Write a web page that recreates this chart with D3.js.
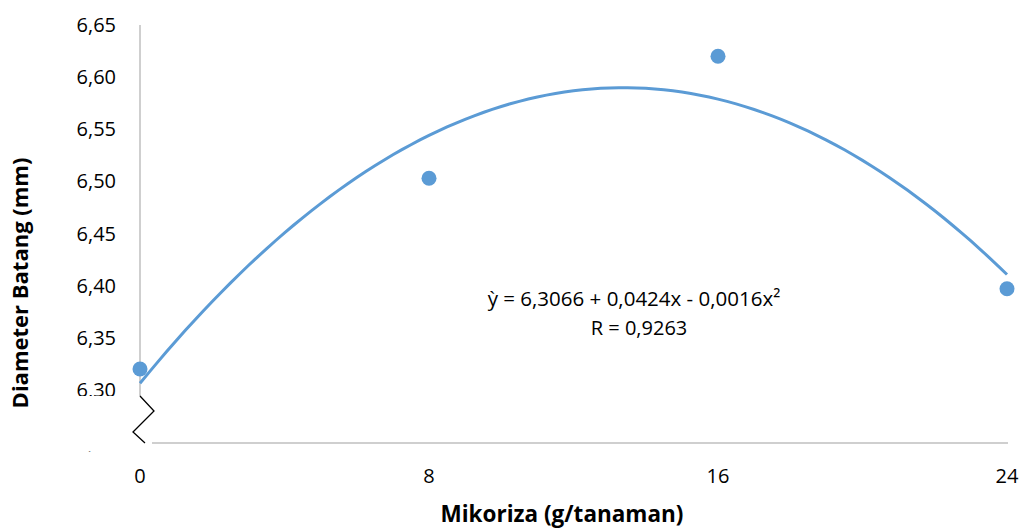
<!DOCTYPE html>
<html>
<head>
<meta charset="utf-8">
<script src="https://cdn.jsdelivr.net/npm/d3@7"></script>
<style>
  body { margin: 0; background: #fff; }
  svg { display: block; font-family: "Open Sans", "Noto Sans", sans-serif; }
</style>
</head>
<body>
<svg id="chart" width="1022" height="530"></svg>
<script>
// data
const mikoriza = [0, 8, 16, 24];
const diameter = [6.32, 6.503, 6.62, 6.397];
const xTicks = [0, 8, 16, 24];
const yTicks = [6.25, 6.30, 6.35, 6.40, 6.45, 6.50, 6.55, 6.60, 6.65];
const equationText = "ỳ = 6,3066 + 0,0424x - 0,0016x²";
const rText = "R = 0,9263";

const svg = d3.select("#chart");
const blue = "#5B9BD5";
const fmt = d => d3.format(".2f")(d).replace(".", ",");

const x = d3.scaleLinear().domain([0, 24]).range([140, 1007]);
const y = d3.scaleLinear().domain([6.25, 6.65]).range([442, 25]);

// y tick labels
svg.append("g").selectAll("text")
  .data(yTicks)
  .join("text")
    .attr("x", 116)
    .attr("y", d => y(d))
    .attr("dy", "0.35em")
    .attr("text-anchor", "end")
    .attr("font-size", 20)
    .attr("fill", "#000")
    .text(fmt);

// axes lines
svg.append("line")
  .attr("x1", 140).attr("x2", 140)
  .attr("y1", y(6.65)).attr("y2", 443)
  .attr("stroke", "#BFBFBF").attr("stroke-width", 1.5);
svg.append("line")
  .attr("x1", 140).attr("x2", 1008)
  .attr("y1", 443).attr("y2", 443)
  .attr("stroke", "#BFBFBF").attr("stroke-width", 1.5);

// white box hiding the broken part of the axis
svg.append("rect")
  .attr("x", 60).attr("y", 396)
  .attr("width", 92).attr("height", 55.5)
  .attr("fill", "#fff");

// zigzag break mark
svg.append("path")
  .attr("d", d3.line()([[140, 396], [154, 411], [133, 432], [145, 443]]))
  .attr("fill", "none")
  .attr("stroke", "#000")
  .attr("stroke-width", 1.3);

// x tick labels
svg.append("g").selectAll("text")
  .data(xTicks)
  .join("text")
    .attr("x", d => x(d))
    .attr("y", 483)
    .attr("text-anchor", "middle")
    .attr("font-size", 20)
    .attr("fill", "#000")
    .text(d => d);

// quadratic least squares trendline (like excel's polynomial order 2)
function fitQuad(xs, ys) {
  let s = [0, 0, 0, 0, 0], t = [0, 0, 0];
  xs.forEach((xi, i) => {
    for (let k = 0; k < 5; k++) s[k] += Math.pow(xi, k);
    for (let k = 0; k < 3; k++) t[k] += ys[i] * Math.pow(xi, k);
  });
  const A = [[s[0], s[1], s[2], t[0]], [s[1], s[2], s[3], t[1]], [s[2], s[3], s[4], t[2]]];
  for (let i = 0; i < 3; i++) {
    for (let j = i + 1; j < 3; j++) {
      const f = A[j][i] / A[i][i];
      for (let k = i; k < 4; k++) A[j][k] -= f * A[i][k];
    }
  }
  const c = [0, 0, 0];
  for (let i = 2; i >= 0; i--) {
    let v = A[i][3];
    for (let k = i + 1; k < 3; k++) v -= A[i][k] * c[k];
    c[i] = v / A[i][i];
  }
  return c;
}
const coef = fitQuad(mikoriza, diameter);
const trend = d3.range(0, 24.001, 0.25).map(v => [v, coef[0] + coef[1] * v + coef[2] * v * v]);

svg.append("path")
  .datum(trend)
  .attr("d", d3.line().x(d => x(d[0])).y(d => y(d[1])))
  .attr("fill", "none")
  .attr("stroke", blue)
  .attr("stroke-width", 3);

// points
svg.append("g").selectAll("circle")
  .data(mikoriza)
  .join("circle")
    .attr("cx", d => x(d))
    .attr("cy", (d, i) => y(diameter[i]))
    .attr("r", 7.5)
    .attr("fill", blue);

// equation label
svg.append("text")
  .attr("x", 634).attr("y", 306)
  .attr("text-anchor", "middle")
  .attr("font-size", 20.5)
  .text(equationText);
svg.append("text")
  .attr("x", 639).attr("y", 335)
  .attr("text-anchor", "middle")
  .attr("font-size", 20)
  .text(rText);

// axis titles
svg.append("text")
  .attr("transform", "translate(28,283) rotate(-90)")
  .attr("text-anchor", "middle")
  .attr("font-size", 22)
  .attr("font-weight", "bold")
  .text("Diameter Batang (mm)");
svg.append("text")
  .attr("x", 562).attr("y", 522)
  .attr("text-anchor", "middle")
  .attr("font-size", 22.5)
  .attr("font-weight", "bold")
  .text("Mikoriza (g/tanaman)");
</script>
</body>
</html>
